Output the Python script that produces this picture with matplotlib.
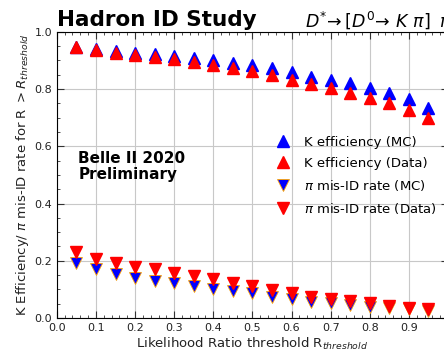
import matplotlib
matplotlib.use("Agg")
import matplotlib.pyplot as plt
from matplotlib.ticker import MultipleLocator, FixedLocator

# likelihood ratio thresholds
r_cut = [0.05, 0.10, 0.15, 0.20, 0.25, 0.30, 0.35, 0.40, 0.45, 0.50,
         0.55, 0.60, 0.65, 0.70, 0.75, 0.80, 0.85, 0.90, 0.95]

k_eff_mc = [0.948, 0.940, 0.933, 0.927, 0.922, 0.916, 0.908, 0.902, 0.892, 0.884,
            0.873, 0.859, 0.843, 0.832, 0.820, 0.803, 0.787, 0.765, 0.735]
k_eff_data = [0.948, 0.937, 0.927, 0.919, 0.913, 0.904, 0.896, 0.884, 0.875, 0.863,
              0.849, 0.832, 0.817, 0.803, 0.787, 0.770, 0.750, 0.727, 0.698]
pi_mis_mc = [0.191, 0.171, 0.153, 0.141, 0.130, 0.121, 0.112, 0.103, 0.095, 0.086,
             0.074, 0.065, 0.057, 0.051, 0.045, 0.039, 0.035, 0.030, 0.025]
pi_mis_data = [0.229, 0.208, 0.191, 0.179, 0.170, 0.158, 0.147, 0.136, 0.124, 0.113,
               0.098, 0.086, 0.074, 0.066, 0.059, 0.053, 0.042, 0.036, 0.030]

x_ticks = [0.0, 0.1, 0.2, 0.3, 0.4, 0.5, 0.6, 0.7, 0.8, 0.9]

fig = plt.figure(figsize=(4.44, 3.53), dpi=100)
ax = fig.add_axes([0.128, 0.099, 0.881, 0.811])

ms = 8.3
ax.plot(r_cut, k_eff_mc, ls="none", marker="^", ms=ms, color="blue",
        label="K efficiency (MC)")
ax.plot(r_cut, k_eff_data, ls="none", marker="^", ms=ms, color="red",
        label="K efficiency (Data)")
ax.plot(r_cut, pi_mis_mc, ls="none", marker="v", ms=ms, color="blue",
        markeredgecolor="orange", markeredgewidth=0.6,
        label=r"$\pi$ mis-ID rate (MC)")
ax.plot(r_cut, pi_mis_data, ls="none", marker="v", ms=ms, color="red",
        label=r"$\pi$ mis-ID rate (Data)")

ax.set_xlim(0, 1.0)
ax.set_ylim(0, 1.0)
ax.xaxis.set_major_locator(FixedLocator(x_ticks))
ax.xaxis.set_minor_locator(MultipleLocator(0.02))
ax.yaxis.set_major_locator(MultipleLocator(0.2))
ax.yaxis.set_minor_locator(MultipleLocator(0.05))
ax.tick_params(which="both", direction="in", top=True, right=True,
               labelsize=8, colors="#333333", labelcolor="#222222")
ax.tick_params(which="major", length=5)
ax.tick_params(which="minor", length=2.5)
ax.grid(True, which="major", color="#c8c8c8", lw=0.8)
ax.set_axisbelow(True)

ax.set_xlabel(r"Likelihood Ratio threshold R$_{threshold}$", fontsize=9.5,
              color="#222222", labelpad=2)
ax.set_ylabel(r"K Efficiency/ $\pi$ mis-ID rate for R $> R_{threshold}$",
              fontsize=9.5, color="#222222", labelpad=2)

ax.legend(loc="upper left", bbox_to_anchor=(0.53, 0.655), frameon=False,
          fontsize=9.5, handletextpad=0.6, labelspacing=0.6,
          borderaxespad=0)

ax.text(0.055, 0.585, "Belle II 2020\nPreliminary", fontsize=11,
        fontweight="bold", va="top", ha="left", linespacing=1.1)

fig.text(0.128, 0.925, "Hadron ID Study", fontsize=15.5, fontweight="bold",
         ha="left", va="baseline")
fig.text(0.687, 0.925,
         r"$D^{*}\!\rightarrow[D^{0}\!\rightarrow\,K\ \pi]\;\;\pi$",
         fontsize=12.5, ha="left", va="baseline")

fig.savefig("out.png", dpi=100)
